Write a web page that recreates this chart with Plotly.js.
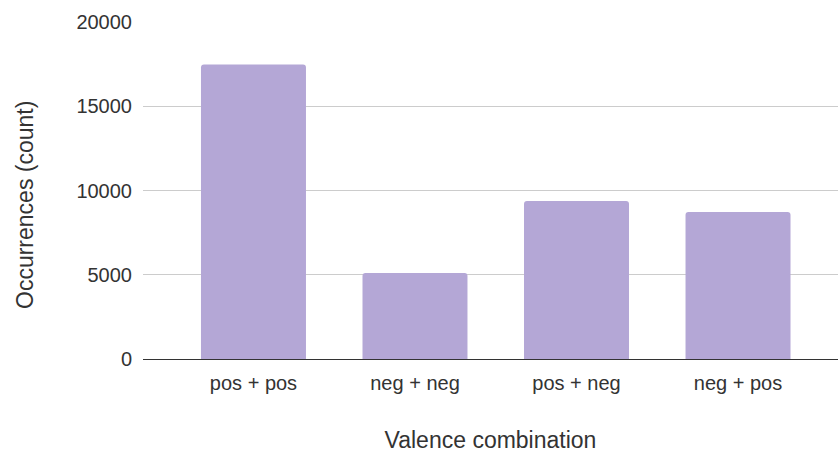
<!DOCTYPE html>
<html>
<head>
<meta charset="utf-8">
<script src="https://cdn.plot.ly/plotly-3.0.1.min.js"></script>
<style>html,body{margin:0;padding:0;background:#fff;}#chart{width:838px;height:454px;}</style>
</head>
<body>
<div id="chart"></div>
<script>
const categories = ["pos + pos", "neg + neg", "pos + neg", "neg + pos"];
const occurrences = [17480, 5110, 9370, 8730];
const yTickValues = [0, 5000, 10000, 15000, 20000];
const yTickLabels = ["0", "5000", "10000", "15000", "20000"];
const xTitle = "Valence combination";
const yTitle = "Occurrences (count)";

const trace = {
  type: "bar",
  x: categories,
  y: occurrences,
  width: 0.65,
  marker: { color: "#b4a7d6", cornerradius: 3, line: { width: 0 } },
  hoverinfo: "x+y"
};

const font = "'Liberation Sans', Arial, sans-serif";
const textColor = "#333333";
const layout = {
  width: 838,
  height: 454,
  margin: { l: 143, r: 0, t: 22, b: 95, pad: 0 },
  paper_bgcolor: "#ffffff",
  plot_bgcolor: "#ffffff",
  showlegend: false,
  font: { family: font, color: textColor, size: 20 },
  xaxis: {
    type: "category",
    range: [-0.684, 3.619],
    showgrid: false,
    showline: false,
    ticks: "",
    ticklabelstandoff: 10,
    tickfont: { family: font, size: 20, color: textColor },
    automargin: false,
    title: { text: xTitle, font: { family: font, size: 23, color: textColor }, standoff: 38 }
  },
  yaxis: {
    range: [0, 20000],
    tickvals: yTickValues,
    ticktext: yTickLabels,
    showgrid: true,
    gridcolor: "#cccccc",
    gridwidth: 1,
    zeroline: true,
    zerolinecolor: "#333333",
    zerolinewidth: 1,
    showline: false,
    ticks: "",
    ticklabelstandoff: 10,
    tickfont: { family: font, size: 20, color: textColor },
    automargin: false
  },
  annotations: [{
    text: yTitle,
    xref: "paper", yref: "paper",
    x: -0.1698, y: 0.457,
    xanchor: "center", yanchor: "middle",
    textangle: -90,
    showarrow: false,
    font: { family: font, size: 23, color: textColor }
  }]
};

Plotly.newPlot("chart", [trace], layout, { displayModeBar: false, staticPlot: true });
</script>
</body>
</html>
